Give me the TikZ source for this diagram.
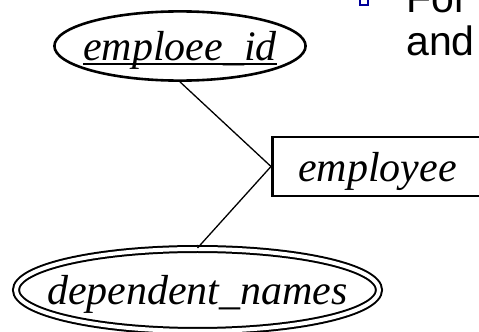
\documentclass[tikz,border=0pt]{standalone}
\usepackage{fontspec}
\setmainfont{Liberation Serif}
\newfontfamily\slidefont{Liberation Sans}
\usetikzlibrary{shapes.geometric}
\usetikzlibrary{positioning}

\newcommand{\keyattr}[1]{\setbox0\hbox{#1}\rlap{\rule[-0.1em]{\wd0}{0.05em}}\box0}

\begin{document}
\begin{tikzpicture}[x=0.5pt,y=-0.5pt,
	erfont/.style={font=\fontsize{21}{25}\selectfont\itshape,text depth=0pt},
	attr/.style={erfont,ellipse,draw,inner ysep=0pt},
	entity/.style={erfont,rectangle,draw,line width=1.35pt},
	link/.style={line width=0.65pt},
	slide/.style={font=\slidefont\fontsize{20.5}{24}\selectfont,inner sep=0pt,anchor=base west}]

	    \useasboundingbox (0,0) rectangle (479,332);

	    \node[attr,line width=1.3pt,inner xsep=-5pt,minimum width=125.6pt,minimum height=34.6pt] (empid) at (180,46) {\keyattr{emploee\_id}};
	    \node[entity,anchor=west,minimum height=29.5pt,text width=95pt,align=left,inner xsep=13pt] (emp) at (271,166.5) {employee};
	    \node[attr,line width=1pt,double,double distance=2pt,inner xsep=-12pt,minimum width=181.5pt,minimum height=41pt] (deps) at (197.5,290) {dependent\_names};

	    \draw[link] (empid.south) -- (emp.west);
	    \draw[link] (emp.west) -- (deps.north);

	    \node[draw=blue!60!black,line width=0.6pt,minimum size=4pt,inner sep=0pt] (bullet) at (364,1) {};
	    \node[slide] (for) at (406,12) {For};
	    \node[slide] (and) at (406,55) {and};

\end{tikzpicture}
\end{document}
